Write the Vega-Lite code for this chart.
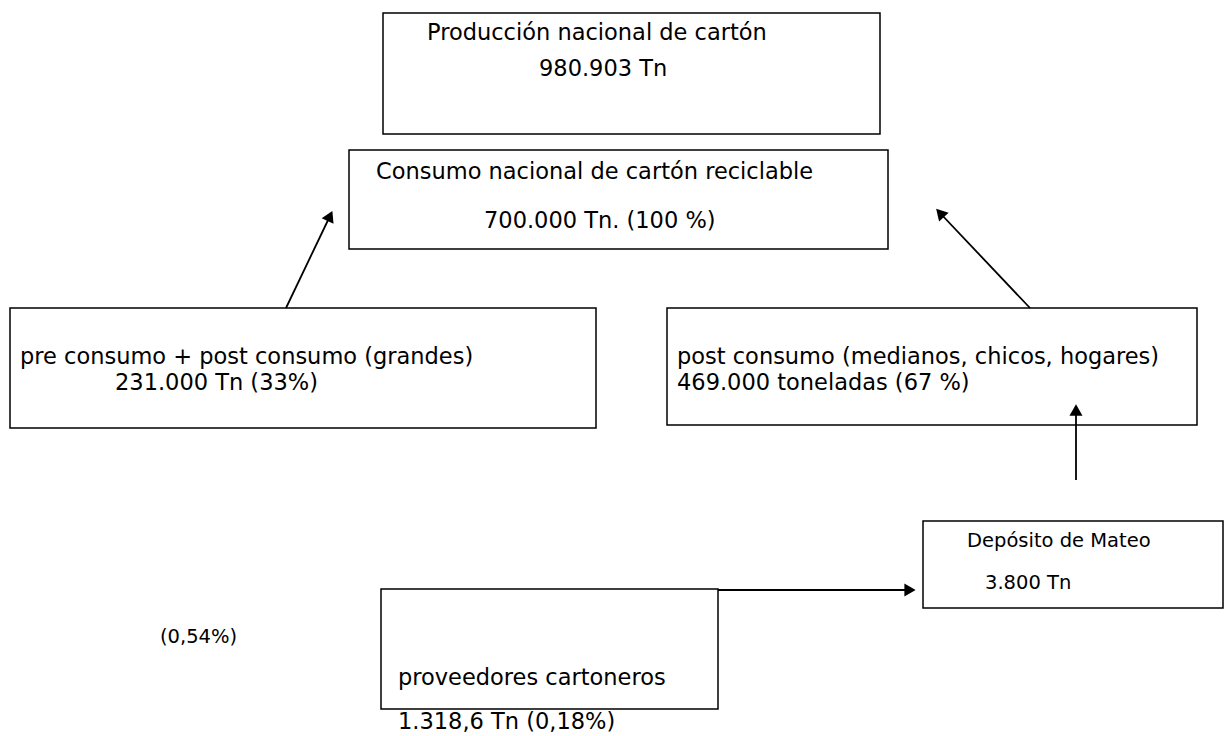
{
  "$schema": "https://vega.github.io/schema/vega-lite/v6.json",
  "width": 1226,
  "height": 736,
  "padding": 0,
  "autosize": {"type": "fit", "contains": "padding"},
  "background": "white",
  "config": {"view": {"stroke": null}},
  "datasets": {
    "boxes": [
      {"box": "produccion", "x": 383, "x2": 880, "y": 13, "y2": 134},
      {"box": "consumo", "x": 349, "x2": 888, "y": 150, "y2": 249},
      {"box": "pre", "x": 10, "x2": 596, "y": 308, "y2": 428},
      {"box": "post", "x": 667, "x2": 1197, "y": 308, "y2": 425},
      {"box": "deposito", "x": 923, "x2": 1223, "y": 521, "y2": 608},
      {"box": "proveedores", "x": 381, "x2": 718, "y": 589, "y2": 709}
    ],
    "links": [
      {"link": "pre-consumo", "x": 286, "y": 308, "x2": 330, "y2": 216},
      {"link": "post-consumo", "x": 1030, "y": 308, "x2": 940, "y2": 213},
      {"link": "deposito-post", "x": 1076, "y": 480, "x2": 1076, "y2": 410},
      {"link": "proveedores-deposito", "x": 718, "y": 590, "x2": 910, "y2": 590}
    ],
    "heads": [
      {"link": "pre-consumo", "x": 330, "y": 216, "angle": 25},
      {"link": "post-consumo", "x": 940, "y": 213, "angle": 317},
      {"link": "deposito-post", "x": 1076, "y": 410, "angle": 0},
      {"link": "proveedores-deposito", "x": 910, "y": 590, "angle": 90}
    ],
    "labels": [
      {"text": "Producción nacional de cartón", "group": "main", "x": 427, "y": 33},
      {"text": "980.903 Tn", "group": "main", "x": 539, "y": 69},
      {"text": "Consumo nacional de cartón reciclable", "group": "main", "x": 376, "y": 172},
      {"text": "700.000 Tn. (100 %)", "group": "main", "x": 484, "y": 221},
      {"text": "pre consumo + post consumo (grandes)", "group": "main", "x": 20, "y": 357},
      {"text": "231.000 Tn (33%)", "group": "main", "x": 115, "y": 383},
      {"text": "post consumo (medianos, chicos, hogares)", "group": "main", "x": 677, "y": 357},
      {"text": "469.000 toneladas (67 %)", "group": "main", "x": 677, "y": 383},
      {"text": "Depósito de Mateo", "group": "deposito", "x": 967, "y": 541},
      {"text": "3.800 Tn", "group": "deposito", "x": 985, "y": 583},
      {"text": "proveedores cartoneros", "group": "main", "x": 398, "y": 678},
      {"text": "1.318,6 Tn (0,18%)", "group": "main", "x": 398, "y": 722},
      {"text": "(0,54%)", "group": "deposito", "x": 160, "y": 637}
    ]
  },
  "layer": [
    {
      "data": {"name": "boxes"},
      "mark": {"type": "rect", "fill": "white", "stroke": "black", "strokeWidth": 1.5},
      "encoding": {
        "x": {"field": "x", "type": "quantitative", "scale": {"domain": [0, 1226], "nice": false, "zero": false}, "axis": null},
        "x2": {"field": "x2"},
        "y": {"field": "y", "type": "quantitative", "scale": {"domain": [0, 736], "reverse": true, "nice": false, "zero": false}, "axis": null},
        "y2": {"field": "y2"}
      }
    },
    {
      "data": {"name": "links"},
      "mark": {"type": "rule", "color": "black", "strokeWidth": 1.8},
      "encoding": {
        "x": {"field": "x", "type": "quantitative"},
        "x2": {"field": "x2"},
        "y": {"field": "y", "type": "quantitative"},
        "y2": {"field": "y2"}
      }
    },
    {
      "data": {"name": "heads"},
      "mark": {"type": "point", "shape": "triangle-up", "filled": true, "color": "black", "opacity": 1, "size": 170},
      "encoding": {
        "x": {"field": "x", "type": "quantitative"},
        "y": {"field": "y", "type": "quantitative"},
        "angle": {"field": "angle", "type": "quantitative", "scale": null}
      }
    },
    {
      "data": {"name": "labels"},
      "transform": [{"filter": "datum.group === 'main'"}],
      "mark": {"type": "text", "align": "left", "baseline": "middle", "font": "DejaVu Sans", "fontSize": 22.5, "color": "black"},
      "encoding": {
        "x": {"field": "x", "type": "quantitative"},
        "y": {"field": "y", "type": "quantitative"},
        "text": {"field": "text"}
      }
    },
    {
      "data": {"name": "labels"},
      "transform": [{"filter": "datum.group !== 'main'"}],
      "mark": {"type": "text", "align": "left", "baseline": "middle", "font": "DejaVu Sans", "fontSize": 19.5, "color": "black"},
      "encoding": {
        "x": {"field": "x", "type": "quantitative"},
        "y": {"field": "y", "type": "quantitative"},
        "text": {"field": "text"}
      }
    }
  ]
}
